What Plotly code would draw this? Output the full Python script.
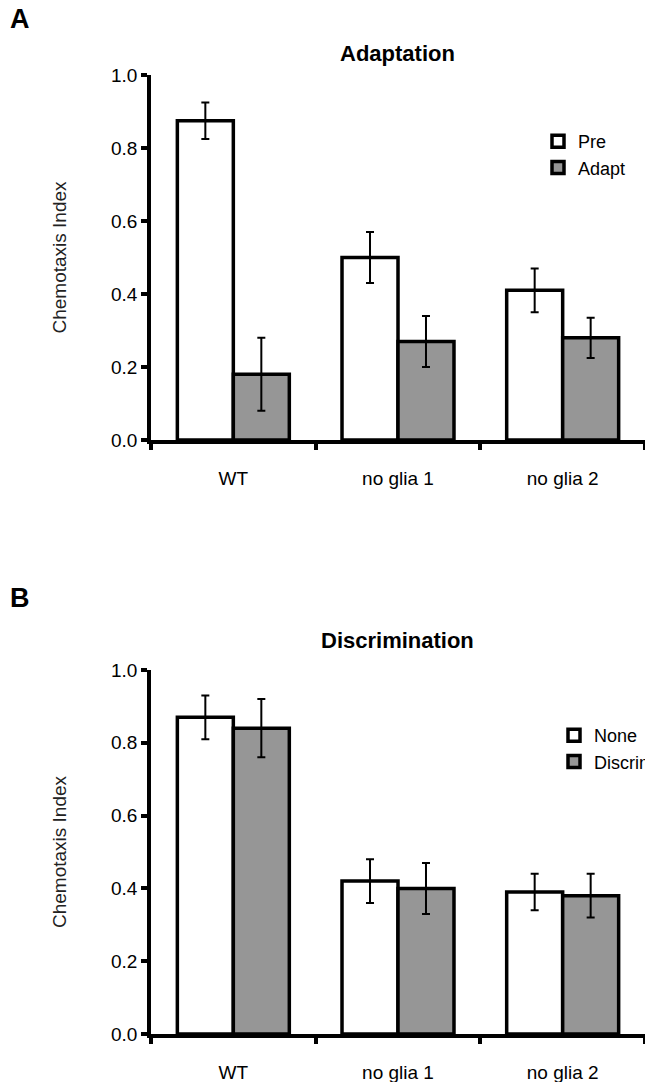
import plotly.graph_objects as go

categories = ["WT", "no glia 1", "no glia 2"]

# Panel A: Adaptation
pre_vals = [0.875, 0.50, 0.41]
pre_err = [0.05, 0.07, 0.06]
adapt_vals = [0.18, 0.27, 0.28]
adapt_err = [0.10, 0.07, 0.055]

# Panel B: Discrimination
none_vals = [0.87, 0.42, 0.39]
none_err = [0.06, 0.06, 0.05]
discr_vals = [0.84, 0.40, 0.38]
discr_err = [0.08, 0.07, 0.06]

y_ticks = [0.0, 0.2, 0.4, 0.6, 0.8, 1.0]

W, H = 645, 1082
FONT = "Liberation Sans, Arial, sans-serif"
GRAY = "#969696"


def py(px):
    return 1 - px / H


def bar(name, x, y, err, fill, xa, ya, legend, group):
    return go.Bar(
        name=name, x=x, y=y,
        marker=dict(color=fill, line=dict(color="black", width=3.5)),
        error_y=dict(type="data", array=err, color="black", thickness=2, width=4),
        xaxis=xa, yaxis=ya, legend=legend, legendgroup=group,
    )


fig = go.Figure()
fig.add_trace(bar("Pre", categories, pre_vals, pre_err, "white", "x", "y", "legend", "a1"))
fig.add_trace(bar("Adapt", categories, adapt_vals, adapt_err, GRAY, "x", "y", "legend", "a2"))
fig.add_trace(bar("None", categories, none_vals, none_err, "white", "x2", "y2", "legend2", "b1"))
fig.add_trace(bar("Discrimination", categories, discr_vals, discr_err, GRAY, "x2", "y2", "legend2", "b2"))

xdom = [151 / W, 1.0]

xaxis_common = dict(
    type="category", range=[-0.5, 2.5], domain=xdom, automargin=False,
    showline=True, linecolor="black", linewidth=3.5,
    ticks="outside", tickson="boundaries", ticklen=6, tickwidth=3.5, tickcolor="black",
    ticklabelstandoff=18,
    tickfont=dict(family=FONT, size=19, color="black"),
    showgrid=False, zeroline=False, fixedrange=True,
)
yaxis_common = dict(
    range=[0, 1], tickvals=y_ticks, tickformat=".1f", automargin=False,
    showline=True, linecolor="black", linewidth=3.5,
    ticks="outside", ticklen=6, tickwidth=3.5, tickcolor="black",
    tickfont=dict(family=FONT, size=19, color="black"),
    title=dict(text="Chemotaxis Index", font=dict(family=FONT, size=19, color="#222"), standoff=40),
    showgrid=False, zeroline=False, fixedrange=True,
)

legend_common = dict(
    font=dict(family=FONT, size=18, color="black"),
    bgcolor="rgba(0,0,0,0)", xanchor="left", yanchor="top",
    tracegroupgap=0, itemwidth=30,
)

fig.update_layout(
    template="none",
    width=W, height=H,
    margin=dict(l=0, r=0, t=0, b=0, autoexpand=False),
    paper_bgcolor="white", plot_bgcolor="white",
    barmode="group", bargap=0.32, bargroupgap=0,
    showlegend=True,
    xaxis=dict(xaxis_common, anchor="y"),
    yaxis=dict(yaxis_common, domain=[py(440), py(75)], anchor="x"),
    xaxis2=dict(xaxis_common, anchor="y2"),
    yaxis2=dict(yaxis_common, domain=[py(1034), py(670)], anchor="x2"),
    legend=dict(legend_common, x=538 / W, y=py(123)),
    legend2=dict(legend_common, x=554 / W, y=py(717)),
    annotations=[
        dict(text="<b>A</b>", x=8 / W, y=py(19), xref="paper", yref="paper",
             xanchor="left", yanchor="middle", showarrow=False,
             font=dict(family=FONT, size=27, color="black")),
        dict(text="<b>B</b>", x=8 / W, y=py(598), xref="paper", yref="paper",
             xanchor="left", yanchor="middle", showarrow=False,
             font=dict(family=FONT, size=27, color="black")),
        dict(text="<b>Adaptation</b>", x=397 / W, y=py(54), xref="paper", yref="paper",
             xanchor="center", yanchor="middle", showarrow=False,
             font=dict(family=FONT, size=22, color="black")),
        dict(text="<b>Discrimination</b>", x=397 / W, y=py(640), xref="paper", yref="paper",
             xanchor="center", yanchor="middle", showarrow=False,
             font=dict(family=FONT, size=22, color="black")),
    ],
)

fig.write_html("out.html")
